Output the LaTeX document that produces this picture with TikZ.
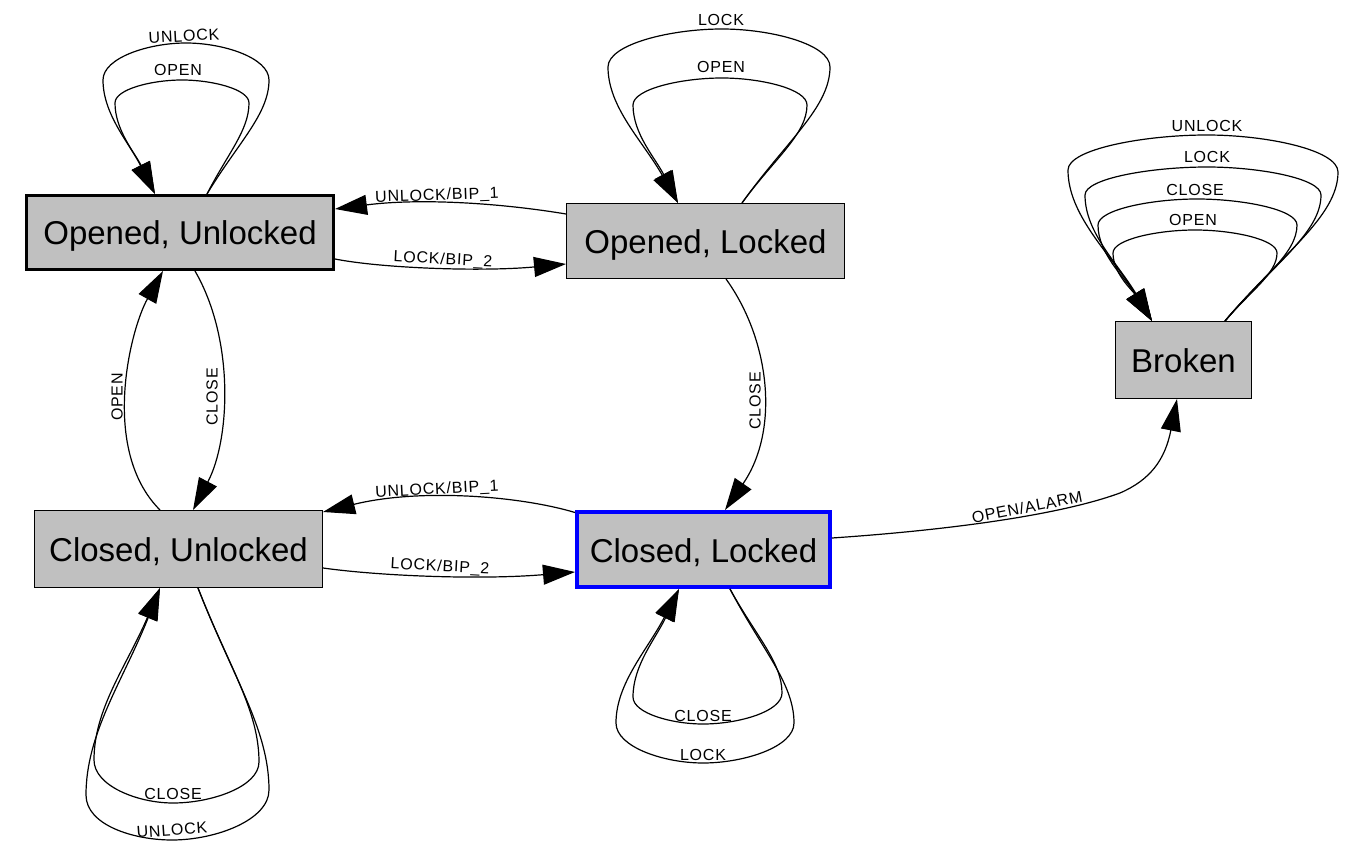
\documentclass[tikz,border=0pt]{standalone}
\usepackage{fontspec}
\setmainfont{Liberation Sans}
\newfontfamily\edgefam[LetterSpace=5]{Liberation Sans}
\usetikzlibrary{arrows.meta,calc}
\definecolor{stategray}{RGB}{192,192,192}
\definecolor{stateblue}{RGB}{0,0,255}
\newcommand\stfont{\fontsize{33}{36}\selectfont}
\newcommand\edgelblfont{\edgefam\fontsize{16}{18}\selectfont}
\begin{document}
\begin{tikzpicture}[x=1pt,y=-1pt,
  state/.style={draw, fill=stategray, inner sep=0pt, font=\stfont, text height=25pt, text depth=0pt},
  edge/.style={line width=1.2pt, -{Triangle[length=32pt,width=20pt]}},
  lbl/.style={font=\edgelblfont, inner sep=0pt}]
\useasboundingbox[fill=white] (0,0) rectangle (1360,858);
% states
\node[state, line width=3pt, minimum width=307pt, minimum height=74pt] (ou) at (180,232.5) {Opened, Unlocked};
\node[state, line width=1pt, minimum width=278pt, minimum height=75pt] (ol) at (705.5,241) {Opened, Locked};
\node[state, line width=1pt, minimum width=136pt, minimum height=77pt] (br) at (1183.5,360) {Broken};
\node[state, line width=1pt, minimum width=288pt, minimum height=77pt] (cu) at (178.5,549) {Closed, Unlocked};
\node[state, draw=stateblue, line width=4pt, minimum width=253pt, minimum height=75pt] (cl) at (703.5,549.5) {Closed, Locked};

% Opened, Unlocked self loops
\draw[edge] ([xshift=27pt]ou.north) .. controls (238,142.7) and (269,114.2) .. (269,80)
  .. controls (269,57.8) and (223.4,43) .. (186,43)
  .. controls (148.6,43) and (103,57.8) .. (103,80)
  .. controls (103,114.2) and (129,142.7) .. ([xshift=-25pt]ou.north);
\draw[edge] ([xshift=27pt]ou.north) .. controls (228,153) and (249,130.3) .. (249,103)
  .. controls (249,89.2) and (212.2,80) .. (182,80)
  .. controls (151.8,80) and (115,89.2) .. (115,103)
  .. controls (115,130.3) and (135,153) .. ([xshift=-25pt]ou.north);
\node[lbl, rotate=3] (lou1) at (184,36) {UNLOCK};
\node[lbl] (lou2) at (178,70) {OPEN};

% Opened, Locked self loops
\draw[edge] ([xshift=36.5pt]ol.north) .. controls (786,141.25) and (830,107.5) .. (830,67)
  .. controls (830,44.2) and (770.6,29) .. (722,29)
  .. controls (670.7,29) and (608,44.2) .. (608,67)
  .. controls (608,107.5) and (643,141.25) .. ([xshift=-27.5pt]ol.north);
\draw[edge] ([xshift=36.5pt]ol.north) .. controls (774.5,158.35) and (807,134.1) .. (807,105)
  .. controls (807,88.8) and (760.25,78) .. (722,78)
  .. controls (682,78) and (633,88.8) .. (633,105)
  .. controls (633,134.1) and (655.5,158.35) .. ([xshift=-27.5pt]ol.north);
\node[lbl] (lol1) at (721,20) {LOCK};
\node[lbl] (lol2) at (721,67) {OPEN};

% Broken self loops
\draw[edge] ([xshift=41.5pt]br.north) .. controls (1281.5,254) and (1338,216.7) .. (1338,172)
  .. controls (1338,149.8) and (1266,135) .. (1207,135)
  .. controls (1144.5,135) and (1068,149) .. (1068,170)
  .. controls (1068,215.3) and (1110,253) .. ([xshift=-31.5pt]br.north);
\draw[edge] ([xshift=41.5pt]br.north) .. controls (1273,264.3) and (1321,232.8) .. (1321,195)
  .. controls (1321,178.2) and (1258.3,167) .. (1207,167)
  .. controls (1152.1,167) and (1085,178.2) .. (1085,195)
  .. controls (1085,232.8) and (1118.5,264.3) .. ([xshift=-31.5pt]br.north);
\draw[edge] ([xshift=41.5pt]br.north) .. controls (1261,277.8) and (1297,253.8) .. (1297,225)
  .. controls (1297,209.4) and (1242,199) .. (1197,199)
  .. controls (1152.5,199) and (1098,209.4) .. (1098,225)
  .. controls (1098,253.8) and (1125,277.8) .. ([xshift=-31.5pt]br.north);
\draw[edge] ([xshift=41.5pt]br.north) .. controls (1251,290.4) and (1277,273.4) .. (1277,253)
  .. controls (1277,239.2) and (1231.9,230) .. (1195,230)
  .. controls (1158.1,230) and (1113,239.2) .. (1113,253)
  .. controls (1113,273.4) and (1132.5,290.4) .. ([xshift=-31.5pt]br.north);
\node[lbl] (lbr1) at (1207,126) {UNLOCK};
\node[lbl] (lbr2) at (1207,157) {LOCK};
\node[lbl] (lbr3) at (1195,190) {CLOSE};
\node[lbl] (lbr4) at (1193,220) {OPEN};

% Closed, Unlocked self loops
\draw[edge] ([xshift=19.5pt]cu.south) .. controls (228.5,666.3) and (259,709.8) .. (259,762)
  .. controls (259,786.6) and (211.7,803) .. (173,803)
  .. controls (137.5,803) and (94,785.8) .. (94,760)
  .. controls (94,708.4) and (127,665.4) .. ([xshift=-18.5pt]cu.south);
\draw[edge] ([xshift=19.5pt]cu.south) .. controls (233.5,679) and (269,729.4) .. (269,790)
  .. controls (269,820) and (215.65,840) .. (172,840)
  .. controls (133.3,840) and (86,825) .. (86,795)
  .. controls (86,733) and (123,681) .. ([xshift=-18.5pt]cu.south);
\node[lbl] (lcu1) at (173,794) {CLOSE};
\node[lbl, rotate=4] (lcu2) at (172,830) {UNLOCK};

% Closed, Locked self loops
\draw[edge] ([xshift=26.5pt]cl.south) .. controls (756,636.35) and (782,662.1) .. (782,693)
  .. controls (782,711.6) and (738.55,724) .. (703,724)
  .. controls (671.5,724) and (633,713.2) .. (633,697)
  .. controls (633,664.9) and (656,638.15) .. ([xshift=-24.5pt]cl.south);
\draw[edge] ([xshift=26.5pt]cl.south) .. controls (762,649.85) and (794,683.1) .. (794,723)
  .. controls (794,747) and (743.95,763) .. (703,763)
  .. controls (663.85,763) and (616,747) .. (616,723)
  .. controls (616,683.1) and (647.5,649.85) .. ([xshift=-24.5pt]cl.south);
\node[lbl] (lcl1) at (703,716) {CLOSE};
\node[lbl] (lcl2) at (703,755) {LOCK};

% between opened states
\draw[edge] ([yshift=27pt]ol.west) .. controls (500,203) and (420,198) .. ([yshift=23.5pt]ou.east);
\node[lbl, rotate=2] (l1) at (437,196) {UNLOCK/BIP\_1};
\draw[edge] ([yshift=-26.5pt]ou.east) .. controls (380,268) and (480,272) .. ([yshift=-23pt]ol.west);
\node[lbl, rotate=-3] (l2) at (443,260) {LOCK/BIP\_2};

% between closed states
\draw[edge] ([yshift=37pt]cl.west) .. controls (520,496) and (420,488) .. ([yshift=37pt]cu.east);
\node[lbl, rotate=3] (l3) at (437,490) {UNLOCK/BIP\_1};
\draw[edge] ([yshift=-19pt]cu.east) .. controls (380,576) and (480,580) .. ([yshift=-22.5pt]cl.west);
\node[lbl, rotate=-3] (l4) at (440,567) {LOCK/BIP\_2};

% vertical edges
\draw[edge] ([xshift=-18.5pt]cu.north) .. controls (100,450) and (130,330) .. ([xshift=-17pt]ou.south);
\node[lbl, rotate=90] (l5) at (117,397) {OPEN};
\draw[edge] ([xshift=15pt]ou.south) .. controls (235,340) and (230,440) .. ([xshift=14.5pt]cu.north);
\node[lbl, rotate=90] (l6) at (212,397) {CLOSE};
\draw[edge] ([xshift=20.5pt]ol.south) .. controls (770,340) and (780,430) .. ([xshift=21.5pt]cl.north);
\node[lbl, rotate=90] (l7) at (755,401) {CLOSE};

% alarm edge
\draw[edge] ([yshift=11.5pt]cl.east) .. controls (950,530) and (1060,515) .. (1120,493)
  .. controls (1150,480) and (1165,460) .. ([xshift=-6.5pt]br.south);
\node[lbl, rotate=11] (l8) at (1027,507) {OPEN/ALARM};
\end{tikzpicture}
\end{document}
